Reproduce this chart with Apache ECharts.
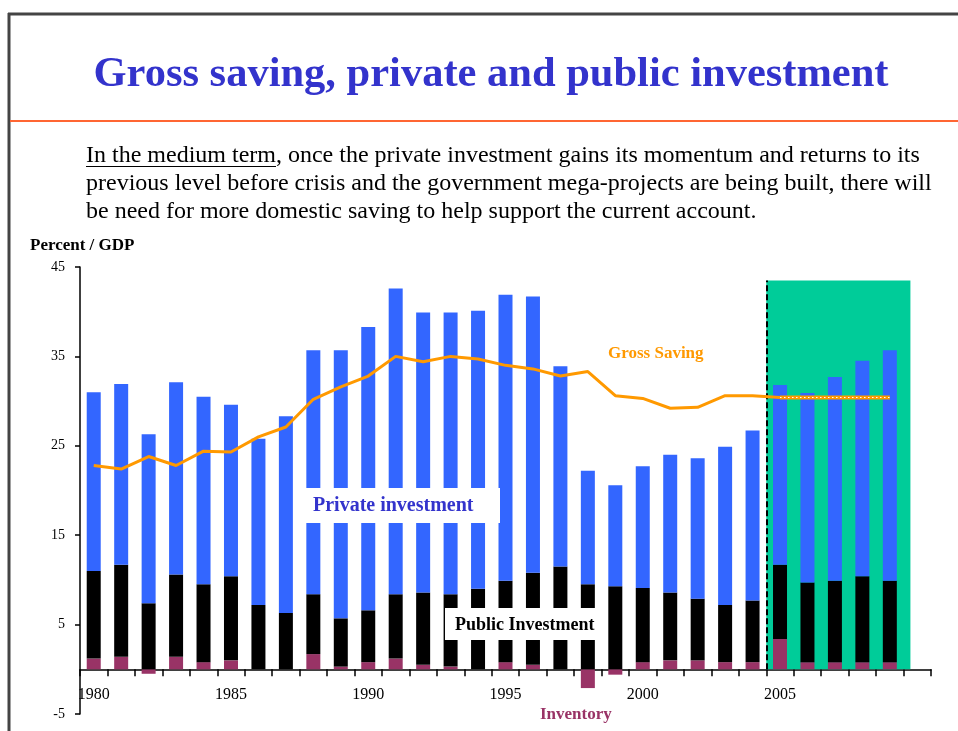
<!DOCTYPE html>
<html>
<head>
<meta charset="utf-8">
<title>Gross saving, private and public investment</title>
<script src="https://cdn.jsdelivr.net/npm/echarts@6/dist/echarts.min.js"></script>
<style>
html, body { margin: 0; padding: 0; background: #fff; }
#chart { width: 958px; height: 731px; }
</style>
</head>
<body>
<div id="chart"></div>
<script>
var years = ['1980', '1981', '1982', '1983', '1984', '1985', '1986', '1987', '1988', '1989',
	'1990', '1991', '1992', '1993', '1994', '1995', '1996', '1997', '1998', '1999',
	'2000', '2001', '2002', '2003', '2004', '2005', '2006', '2007', '2008', '2009', '2010'];

// percent of GDP
var inventory = [1.2, 1.4, -0.5, 1.4, 0.8, 1.0, 0, 0, 1.7, 0.3,
	0.8, 1.2, 0.5, 0.3, 0, 0.8, 0.5, 0, -2.1, -0.6,
	0.8, 1.0, 1.0, 0.8, 0.8, 3.4, 0.8, 0.8, 0.8, 0.8, null];
var publicInv = [9.8, 10.3, 7.4, 9.2, 8.7, 9.4, 7.2, 6.3, 6.7, 5.4,
	5.8, 7.2, 8.1, 8.1, 9.0, 9.1, 10.3, 11.5, 9.5, 9.3,
	8.3, 7.6, 6.9, 6.4, 6.9, 8.3, 8.9, 9.1, 9.6, 9.1, null];
var privateInv = [20.0, 20.2, 18.9, 21.5, 21.0, 19.2, 18.6, 22.0, 27.3, 30.0,
	31.7, 34.2, 31.3, 31.5, 31.1, 32.0, 30.9, 22.4, 12.7, 11.3,
	13.6, 15.4, 15.7, 17.7, 19.0, 20.1, 21.2, 22.8, 24.1, 25.8, null];
var grossSaving = [22.8, 22.4, 23.8, 22.8, 24.4, 24.3, 26.0, 27.1, 30.2, 31.6,
	32.8, 35.0, 34.4, 35.0, 34.7, 34.0, 33.6, 32.8, 33.3, 30.6,
	30.3, 29.2, 29.3, 30.6, 30.6, 30.4, null, null, null, null, null];
var grossSavingProj = [null, null, null, null, null, null, null, null, null, null,
	null, null, null, null, null, null, null, null, null, null,
	null, null, null, null, null, 30.4, 30.4, 30.4, 30.4, 30.4, null];

var yMin = -5, yMax = 45, yStep = 10;
var labelYears = ['1980', '1985', '1990', '1995', '2000', '2005'];

var serif = '"Liberation Serif", "Times New Roman", serif';

var gridTop = 267, gridBottom = 17, chartH = 731;
// lift the category axis from the bottom of the grid up to the zero line
var zeroLift = (chartH - gridTop - gridBottom) * (0 - yMin) / (yMax - yMin);

var myChart = echarts.init(document.getElementById('chart'));

var option = {
	animation: false,
	backgroundColor: '#fff',
	grid: { left: 80, right: 27, top: gridTop, bottom: gridBottom, outerBoundsMode: 'none', containLabel: false },
	xAxis: [{
		type: 'category',
		data: years,
		offset: -zeroLift,
		axisLine: { onZero: false, lineStyle: { color: '#000', width: 1.5 } },
		axisTick: { show: true, interval: 0, length: 7, lineStyle: { color: '#000', width: 1.5 } },
		axisLabel: {
			interval: function (idx, val) { return labelYears.indexOf(val) >= 0; },
			fontFamily: serif, fontSize: 16, color: '#000', margin: 17
		},
		splitLine: { show: false }
	}, {
		// helper axis for the forecast band
		type: 'value', min: 0, max: years.length, show: false
	}],
	yAxis: {
		type: 'value',
		min: yMin, max: yMax, interval: yStep,
		axisLine: { show: true, lineStyle: { color: '#000', width: 1.5 } },
		axisTick: { show: true, length: 5, lineStyle: { color: '#000', width: 1.5 } },
		axisLabel: { fontFamily: serif, fontSize: 14, color: '#000', margin: 15 },
		splitLine: { show: false }
	},
	series: [{
		name: 'forecast',
		type: 'line',
		xAxisIndex: 1,
		data: [],
		z: 1,
		silent: true,
		markArea: {
			silent: true,
			itemStyle: { color: '#00CC99' },
			data: [[{ coord: [25, 43.5] }, { coord: [30.25, 0] }]]
		},
		markLine: {
			silent: true,
			symbol: 'none',
			label: { show: false },
			lineStyle: { color: '#000', type: [6, 3], width: 2 },
			data: [[{ coord: [25, 0] }, { coord: [25, 43.5] }]]
		}
	}, {
		name: 'Inventory',
		type: 'bar',
		stack: 'inv',
		barWidth: 14,
		itemStyle: { color: '#993366' },
		data: inventory
	}, {
		name: 'Public Investment',
		type: 'bar',
		stack: 'inv',
		barWidth: 14,
		itemStyle: { color: '#000' },
		data: publicInv
	}, {
		name: 'Private investment',
		type: 'bar',
		stack: 'inv',
		barWidth: 14,
		itemStyle: { color: '#3366FF' },
		data: privateInv
	}, {
		name: 'Gross Saving',
		type: 'line',
		symbol: 'none',
		z: 5,
		lineStyle: { color: '#FF9900', width: 3 },
		data: grossSaving
	}, {
		name: 'Gross Saving proj',
		type: 'line',
		symbol: 'none',
		z: 5,
		lineStyle: { color: '#FF9900', width: 4 },
		data: grossSavingProj
	}, {
		name: 'Gross Saving dots',
		type: 'line',
		symbol: 'none',
		z: 6,
		lineStyle: { color: '#fff', width: 1.2, type: [1.5, 2.5] },
		data: grossSavingProj
	}],
	graphic: [
		{ type: 'line', z: 50, shape: { x1: 8, y1: 14, x2: 958, y2: 14 }, style: { stroke: '#444', lineWidth: 3 } },
		{ type: 'line', z: 50, shape: { x1: 9, y1: 13, x2: 9, y2: 731 }, style: { stroke: '#444', lineWidth: 3 } },
		{ type: 'line', z: 50, shape: { x1: 10, y1: 121, x2: 958, y2: 121 }, style: { stroke: '#FF6633', lineWidth: 2 } },
		{ type: 'text', z: 50, x: 491, y: 75, style: {
			text: 'Gross saving, private and public investment',
			font: 'bold 42.5px ' + serif, fill: '#3333CC', textAlign: 'center', textVerticalAlign: 'middle' } },
		{ type: 'text', z: 50, x: 86, y: 156, style: {
			text: 'In the medium term, once the private investment gains its momentum and returns to its',
			font: '24px ' + serif, fill: '#000', textAlign: 'left', textVerticalAlign: 'middle' } },
		{ type: 'text', z: 50, x: 86, y: 184, style: {
			text: 'previous level before crisis and the government mega-projects are being built, there will',
			font: '24px ' + serif, fill: '#000', textAlign: 'left', textVerticalAlign: 'middle' } },
		{ type: 'text', z: 50, x: 86, y: 212, style: {
			text: 'be need for more domestic saving to help support the current account.',
			font: '24px ' + serif, fill: '#000', textAlign: 'left', textVerticalAlign: 'middle' } },
		{ type: 'line', z: 50, shape: { x1: 86, y1: 166.5, x2: 276, y2: 166.5 }, style: { stroke: '#000', lineWidth: 1 } },
		{ type: 'text', z: 50, x: 30, y: 246, style: {
			text: 'Percent / GDP', font: 'bold 17px ' + serif, fill: '#000', textAlign: 'left', textVerticalAlign: 'middle' } },
		{ type: 'text', z: 50, x: 608, y: 354, style: {
			text: 'Gross Saving', font: 'bold 17px ' + serif, fill: '#FF9900', textAlign: 'left', textVerticalAlign: 'middle' } },
		{ type: 'rect', z: 50, shape: { x: 300, y: 488, width: 200, height: 35 }, style: { fill: '#fff' } },
		{ type: 'text', z: 51, x: 313, y: 506, style: {
			text: 'Private investment', font: 'bold 20px ' + serif, fill: '#3333CC', textAlign: 'left', textVerticalAlign: 'middle' } },
		{ type: 'rect', z: 50, shape: { x: 445, y: 608, width: 155, height: 32 }, style: { fill: '#fff' } },
		{ type: 'text', z: 51, x: 455, y: 625, style: {
			text: 'Public Investment', font: 'bold 18px ' + serif, fill: '#000', textAlign: 'left', textVerticalAlign: 'middle' } },
		{ type: 'text', z: 50, x: 540, y: 715, style: {
			text: 'Inventory', font: 'bold 17px ' + serif, fill: '#993366', textAlign: 'left', textVerticalAlign: 'middle' } }
	]
};

myChart.setOption(option);

window.onresize = function () {
	myChart.resize();
};
</script>
</body>
</html>
